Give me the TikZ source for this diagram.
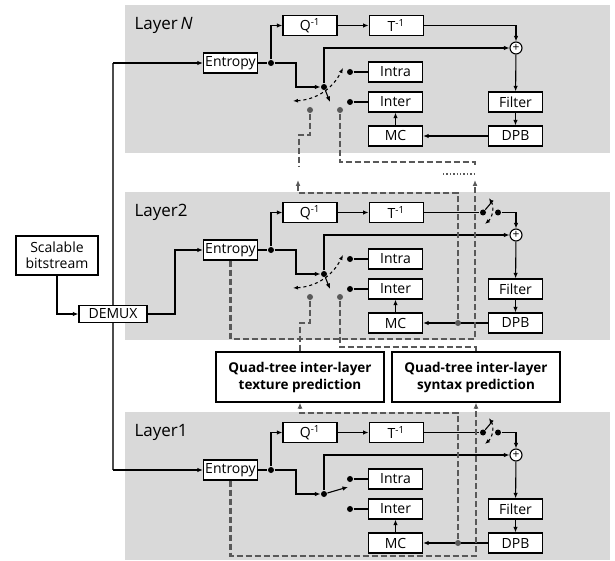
\documentclass[tikz,border=0pt]{standalone}
\usepackage{fontspec}
\setmainfont{Open Sans}
\usepackage{tikz}
\usetikzlibrary{arrows.meta, positioning}

\begin{document}
\begin{tikzpicture}[
    x=1pt, y=-1pt, line width=1.1pt,
    box/.style={rectangle, draw, line width=1.2pt, fill=white, minimum width=54pt, minimum height=20pt, inner sep=0.5pt, font=\fontsize{14}{16}\selectfont},
    pred/.style={rectangle, draw, line width=1.2pt, fill=white, minimum width=168pt, minimum height=50pt, align=center, font=\bfseries\fontsize{13.5}{17}\selectfont},
    lbl/.style={anchor=west, inner sep=0pt, font=\fontsize{17}{20}\selectfont},
    dot/.style={circle, fill=black, inner sep=0pt, minimum size=6pt},
    gdot/.style={dot, fill=black!65},
    arrow/.style={-{Latex[length=5.5pt,width=4.5pt]}},
    swarrow/.style={dashed, {Latex[length=5pt,width=4pt]}-{Latex[length=5pt,width=4pt]}},
    gdash/.style={draw=black!65, line width=2.2pt, dash pattern=on 6pt off 3pt},
    garrow/.style={gdash, -{Latex[length=6pt,width=5pt]}},
    panel/.style={fill=black!15}
]
\useasboundingbox (0,0) rectangle (615,561);

% one gray panel per layer
\foreach \l/\t/\txt in {N/5/{Layer\,\textit{N}}, 2/192/Layer2, 1/412/Layer1}{
  \begin{scope}[shift={(0,\t)}]
  \fill[panel] (125,0) rectangle (610,148);
  \node[lbl] (lab\l) at (134,20) {\txt};
  \node[box] (ent\l) at (230.5,58) {Entropy};
  \node[dot] (jct\l) at (271,58) {};
  \node[box] (q\l) at (310,20.5) {Q\textsuperscript{-1}};
  \node[box, right=31pt of q\l] (t\l) {T\textsuperscript{-1}};
  \node[draw, circle, fill=white, minimum size=12pt, inner sep=0pt] (plus\l) at (516,43) {\fontsize{12}{12}\selectfont +};
  \node[dot] (piv\l) at (324,82) {};
  \node[dot] (ci\l) at (350,67) {};
  \node[dot] (ce\l) at (350,97) {};
  \node[box] (intra\l) at (395.5,67) {Intra};
  \node[box] (inter\l) at (395.5,97) {Inter};
  \node[box] (mc\l) at (395.5,131) {MC};
  \node[box] (filter\l) at (515.5,97) {Filter};
  \node[box] (dpb\l) at (515.5,131) {DPB};
  \draw (ent\l) -- (jct\l);
  \draw[arrow] (jct\l) |- (q\l);
  \draw[arrow] (q\l) -- (t\l);
  \draw[arrow] (jct\l) -- ++(25,0) |- (piv\l);
  \draw[arrow] (piv\l) |- (plus\l);
  \draw[arrow] (plus\l) -- (filter\l);
  \draw[arrow] (filter\l) -- (dpb\l);
  \draw[arrow] (dpb\l) -- (mc\l);
  \draw[arrow] (mc\l) -- (inter\l);
  \draw (ci\l) -- (intra\l);
  \draw (ce\l) -- (inter\l);
  \end{scope}
}
\draw[arrow] (tN) -| (plusN);

% residual switch
\foreach \l/\t in {2/192, 1/412}{
  \begin{scope}[shift={(0,\t)}]
  \node[dot] (ra\l) at (483,20.5) {};
  \node[dot] (rb\l) at (498,20.5) {};
  \draw (t\l) -- (ra\l);
  \draw[arrow] (rb\l) -| (plus\l);
  \draw (ra\l) -- ++(10,-12);
  \draw[swarrow] (489,6) to[bend left=40] (485,32);
  \end{scope}
}

% mode switch
\foreach \l/\t in {N/5, 2/192}{
  \begin{scope}[shift={(0,\t)}]
  \draw[arrow] (piv\l) -- ++(6,15);
  \draw[swarrow] (293,96) to[bend right=30] (343,63);
  \node[gdot] (gt\l) at (310,105) {};
  \node[gdot] (gs\l) at (340,105) {};
  \end{scope}
}
\draw[arrow] (piv1) -- ++(24,-7);

% inter-layer prediction
\node[pred] (tex) at (300,377) {Quad-tree inter-layer\\texture prediction};
\node[pred] (syn) at (476,377) {Quad-tree inter-layer\\syntax prediction};
\node[gdot] (dj2) at (458,323) {};
\node[gdot] (dj1) at (458,543) {};
\coordinate (endtN) at (299,167);
\coordinate (endsN) at (475,167);
\coordinate (uptN) at (298,180);
\coordinate (upsN) at (475,180);
\draw[gdash] (gtN) -- ++(0,25) -| (endtN);
\draw[gdash] (gsN) -- ++(0,52) -| (endsN);
\draw[black!65, line width=1.4pt, dotted] (443,174) -- (475,174);
\draw[garrow] (dj2) -- ++(0,-130) -| (uptN);
\draw[garrow] (ent2.south) -- ++(0,78) -| (upsN);
\draw[gdash] (gt2) -- ++(0,26) -| (tex.north);
\draw[gdash] (gs2) -- ++(0,50) -| (syn.north);
\draw[garrow] (dj1) -- ++(0,-130) -| (tex.south);
\draw[garrow] (ent1.south) -- ++(0,75) -| (syn.south);

% bitstream input
\coordinate (busT) at (113,63);
\coordinate (busB) at (113,470);
\draw[black!70, line width=1.5pt] (busT) -- (busB);
\draw[arrow] (busT) -- (entN);
\draw[arrow] (busB) -- (ent1);
\node[box, minimum width=82pt, minimum height=39pt, align=center] (bits) at (57,255.5) {Scalable\\bitstream};
\node[box, minimum width=68pt, minimum height=17pt] (demux) at (113,314) {DEMUX};
\draw[arrow] (bits) |- (demux);
\draw[arrow] (demux) -- ++(62,0) |- (ent2);
\end{tikzpicture}
\end{document}
